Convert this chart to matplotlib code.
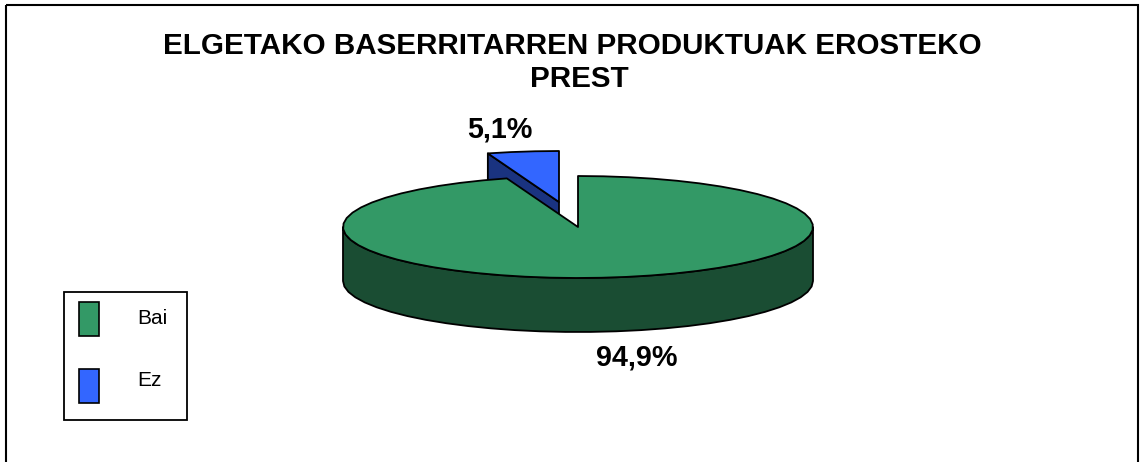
#!/usr/bin/env python3

# 3D looking pie, matplotlib has no such thing so the faces are polygons
import numpy as np
import matplotlib
matplotlib.use("Agg")
import matplotlib.pyplot as plt
from matplotlib.patches import Polygon, Rectangle

title_lines = ["ELGETAKO BASERRITARREN PRODUKTUAK EROSTEKO", "PREST"]
categories = ["Bai", "Ez"]
values = [94.9, 5.1]
labels = ["94,9%", "5,1%"]

plt.rcParams["font.family"] = ["Liberation Sans", "DejaVu Sans"]

green = "#339966"
green_dark = "#1a4d33"
blue = "#3366ff"
blue_dark = "#1a3380"

fig = plt.figure(figsize=(11.4, 4.62), dpi=100)
ax = fig.add_axes([0, 0, 1, 1])
ax.set_xlim(0, 1140)
ax.set_ylim(462, 0)
ax.axis("off")

# pie geometry in pixels
cx, cy = 578, 227
rx, ry = 235, 51
depth = 54
explode = (-19, -25)


def arc(t1, t2, ox=0, oy=0, n=40):
    # few points on purpose, the original outline is a bit polygonal
    t = np.radians(np.linspace(t1, t2, n))
    return np.column_stack([cx + ox + rx * np.cos(t), cy + oy - ry * np.sin(t)])


def face(pts, color, z):
    ax.add_patch(Polygon(pts, closed=True, facecolor=color, edgecolor="black",
                         linewidth=1.3, joinstyle="round", zorder=z))


# slices start at 12 o'clock and the Ez one sits just before it
# 0.96 = the view squeezes the angle a little
ez_span = values[1] / sum(values) * 360 * 0.96
start = 90
end = 90 + ez_span

# exploded blue slice, drawn first so the green top covers its lower part
ox, oy = explode
blue_arc = arc(start, end, ox, oy, 4)
apex = np.array([cx + ox, cy + oy])
lip = blue_arc[-1]
face([lip, apex, apex + [0, depth], lip + [0, depth]], blue_dark, 2)
face(np.vstack([[apex], blue_arc]), blue, 3)

# green side wall, only the front half shows
front = arc(180, 360, n=30)
wall = np.vstack([front, front[::-1] + [0, depth]])
face(wall, green_dark, 4)

# green top
top = arc(end, 360 + start, n=56)
face(np.vstack([[[cx, cy]], top]), green, 5)

# frame, the bottom runs off the image
ax.add_patch(Rectangle((6, 5), 1132, 470, facecolor="none", edgecolor="black",
                       linewidth=1.5, clip_on=True, zorder=1))

ax.text(572, 46, title_lines[0], ha="center", va="center", fontsize=21.3, fontweight="bold")
ax.text(579, 79, title_lines[1], ha="center", va="center", fontsize=21.3, fontweight="bold")

ax.text(637, 358, labels[0], ha="center", va="center", fontsize=20.7, fontweight="bold")
ax.text(500, 130, labels[1], ha="center", va="center", fontsize=20.7, fontweight="bold")

# legend by hand so it lands in the same spot
ax.add_patch(Rectangle((64, 292), 123, 128, facecolor="white", edgecolor="black",
                       linewidth=1.3, zorder=6))
for name, col, y0, ty in zip(categories, [green, blue], [302, 369], [318, 381]):
    ax.add_patch(Rectangle((79, y0), 20, 34, facecolor=col, edgecolor="black",
                           linewidth=1.2, zorder=7))
    ax.text(137, ty, name, ha="left", va="center", fontsize=15, zorder=7)

fig.savefig("out.png", dpi=100)
